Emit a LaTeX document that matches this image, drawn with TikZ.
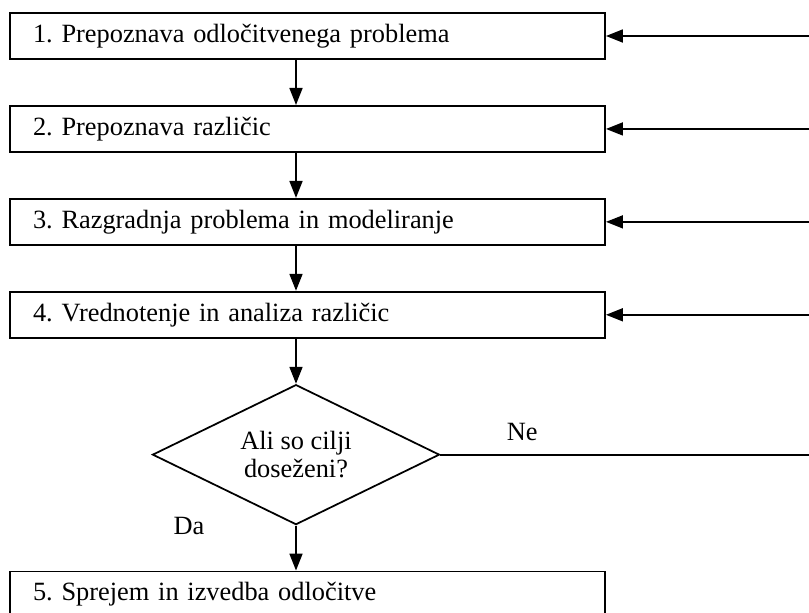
\documentclass[tikz,border=0pt]{standalone}
\usepackage{fontspec}
\setmainfont{Liberation Serif}
\frenchspacing
\usetikzlibrary{arrows.meta,positioning,shapes.geometric}

\begin{document}
\begin{tikzpicture}[
    node distance=0.9cm,
    font=\fontsize{15}{16}\selectfont,
    stage/.style={draw, line width=1.1pt, text width=10.98cm, inner xsep=0.46cm, minimum height=0.92cm, align=left},
    decision/.style={draw, diamond, line width=1pt, aspect=2.05, inner sep=0pt, minimum width=5.74cm, minimum height=2.8cm, align=center},
    flow/.style={-{Triangle[length=3.4mm, width=2.6mm]}, line width=1pt},
    lbl/.style={font=\fontsize{15}{16}\selectfont}
]
\useasboundingbox (0,0) rectangle (16.18,-12.26);

\node[stage] (b1) at (6.15,-0.72) {1. Prepoznava odločitvenega problema};
\node[stage, below=of b1] (b2) {2. Prepoznava različic};
\node[stage, below=of b2] (b3) {3. Razgradnja problema in modeliranje};
\node[stage, below=of b3] (b4) {4. Vrednotenje in analiza različic};

\node[decision, below=0.9cm of b4, xshift=-0.23cm] (dec) {Ali so cilji\\doseženi?};
\node[stage, below=0.9cm of dec, xshift=0.23cm] (b5) {5. Sprejem in izvedba odločitve};

% feedback lines come in from the right edge
\coordinate (rim) at (17,0);

\draw[flow] (b1.south -| dec) -- (b2.north -| dec);
\draw[flow] (b2.south -| dec) -- (b3.north -| dec);
\draw[flow] (b3.south -| dec) -- (b4.north -| dec);
\draw[flow] (b4.south -| dec) -- (dec.north);
\draw[flow] (dec.south) -- node[lbl, pos=0, left=1.7cm] {Da} (b5.north -| dec);

\draw[flow] (b1.east -| rim) -- (b1.east);
\draw[flow] (b2.east -| rim) -- (b2.east);
\draw[flow] (b3.east -| rim) -- (b3.east);
\draw[flow] (b4.east -| rim) -- (b4.east);

\draw[line width=1pt] (dec.east) -- node[lbl, pos=0.2, above=4pt] {Ne} (dec.east -| rim);
\end{tikzpicture}
\end{document}
